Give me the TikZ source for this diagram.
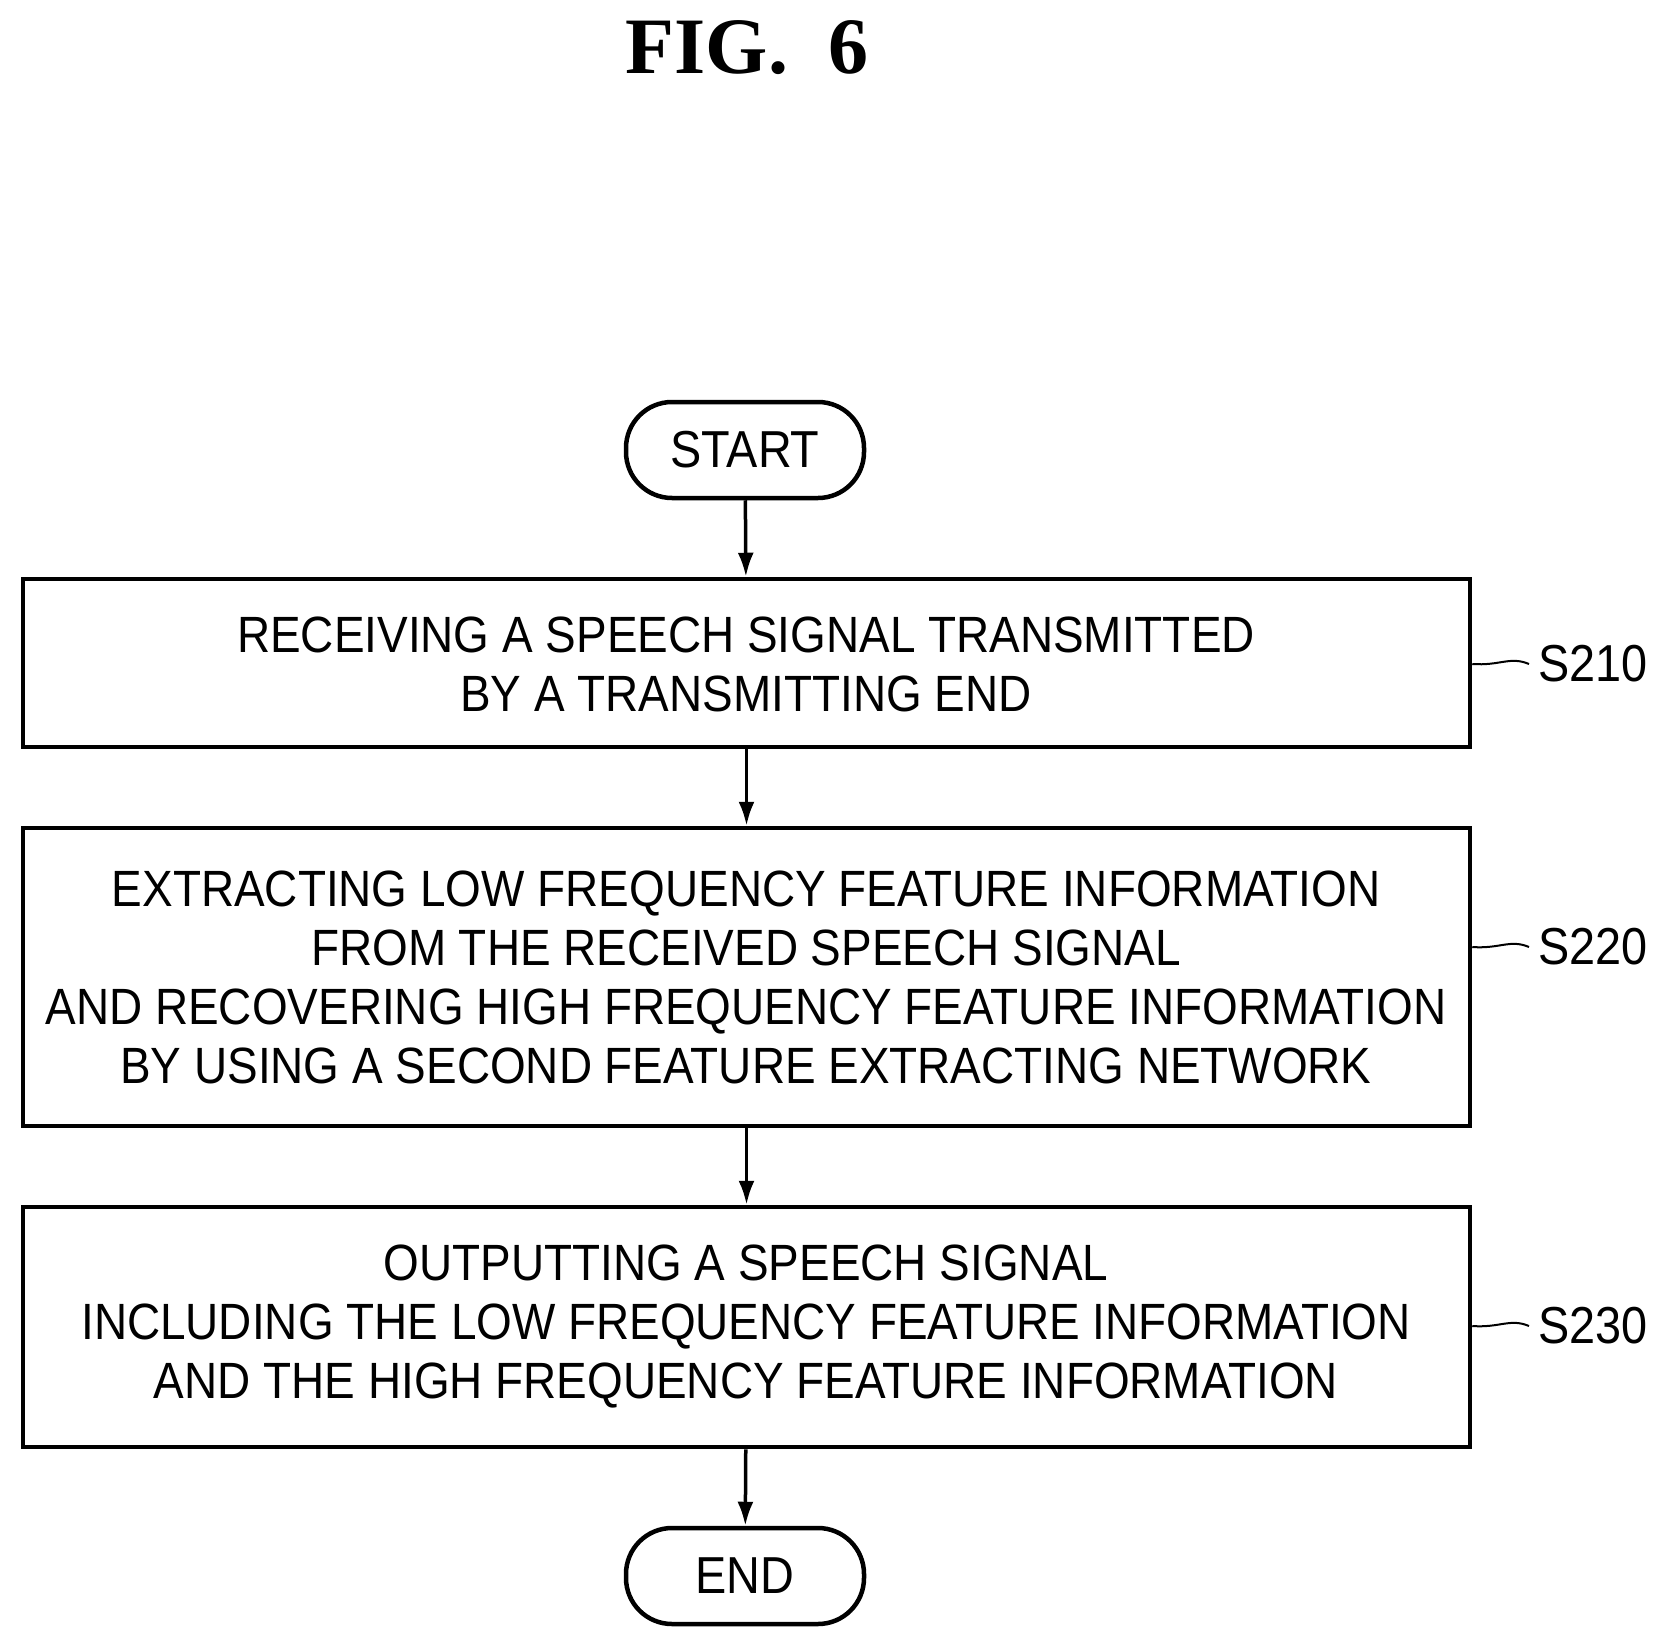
\documentclass[tikz,border=0pt]{standalone}
\usepackage{fontspec}
\setmainfont{Liberation Sans}[FakeStretch=0.9]
\newfontfamily\serifb{Liberation Serif}
\usetikzlibrary{arrows.meta}
\begin{document}
\begin{tikzpicture}[x=1pt,y=-1pt,
 box/.style={draw,line width=4.5pt,inner sep=0pt},
 term/.style={draw,line width=4.5pt,rounded corners=46pt,minimum width=238pt,minimum height=96pt,font=\fontsize{52}{60}\selectfont},
 txt/.style={align=center,font=\fontsize{51}{59}\selectfont},
 lab/.style={anchor=west,font=\fontsize{52}{60}\selectfont},
 arr/.style={line width=3.5pt,-{Latex[length=24pt,width=16pt]}},
 lead/.style={line width=2pt}]
\useasboundingbox (0,0) rectangle (1670,1645);
\node[font=\serifb\bfseries\fontsize{80}{90}\selectfont] (title) at (747,48) {FIG.\ \ 6};
\node[term] (start) at (745,450) {START};
\node[box,minimum width=1447pt,minimum height=168pt] (b1) at (746.5,663) {};
\node[box,minimum width=1447pt,minimum height=298pt] (b2) at (746.5,977) {};
\node[box,minimum width=1447pt,minimum height=240pt] (b3) at (746.5,1327) {};
\node[term] (end) at (745,1576) {END};
\node[txt] (t1) at (746,664) {RECEIVING A SPEECH SIGNAL TRANSMITTED\\BY A TRANSMITTING END};
\node[txt] (t2) at (746,977) {EXTRACTING LOW FREQUENCY FEATURE INFORMATION\\FROM THE RECEIVED SPEECH SIGNAL\\AND RECOVERING HIGH FREQUENCY FEATURE INFORMATION\\BY USING A SECOND FEATURE EXTRACTING NETWORK};
\node[txt] (t3) at (746,1326) {OUTPUTTING A SPEECH SIGNAL\\INCLUDING THE LOW FREQUENCY FEATURE INFORMATION\\AND THE HIGH FREQUENCY FEATURE INFORMATION};
\node[lab] (s1) at (1535,664) {S210};
\node[lab] (s2) at (1535,947) {S220};
\node[lab] (s3) at (1535,1326) {S230};
\draw[arr] (start) -- (b1);
\draw[arr] (b1) -- (b2);
\draw[arr] (b2) -- (b3);
\draw[arr] (b3) -- (end);
\foreach \s/\y in {s1/664,s2/947,s3/1326}{
 \draw[lead] (b1.east |- 0,\y) .. controls (1500,\y+2) and (1510,\y-8) .. ([xshift=-6pt]\s.west);
}
\end{tikzpicture}
\end{document}
